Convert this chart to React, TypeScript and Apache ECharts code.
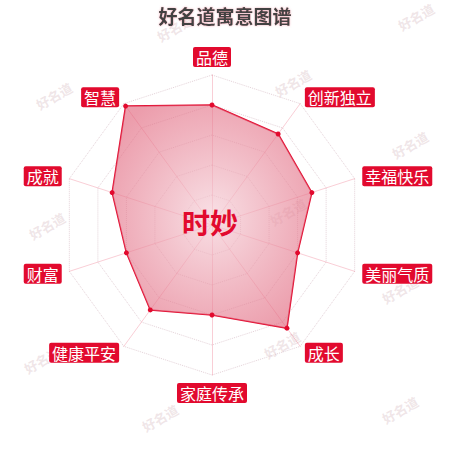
import * as echarts from 'echarts';
import React, { useEffect, useRef } from 'react';

// counterclockwise from the top, as the radar draws them
const indicatorNames = [
  '品德',
  '智慧',
  '成就',
  '财富',
  '健康平安',
  '家庭传承',
  '成长',
  '美丽气质',
  '幸福快乐',
  '创新独立',
];
const scores = [80, 98, 70, 60, 70, 60, 85, 60, 70, 75];
const maxScore = 100;

const title = '好名道寓意图谱';
const nameText = '时妙';
const watermark = '好名道';
const watermarkSpots = [
  [175, 28],
  [416, 17],
  [54, 96],
  [293, 83],
  [410, 145],
  [47, 226],
  [288, 212],
  [400, 290],
  [42, 360],
  [282, 345],
  [160, 418],
  [400, 410],
];

const red = '#e20a2e';

const App: React.FC = () => {
  const chartRef = useRef<HTMLDivElement>(null);

  useEffect(() => {
    if (!chartRef.current) return;
    const chart = echarts.init(chartRef.current, undefined, { renderer: 'svg' });

    const option: echarts.EChartsOption = {
      animation: false,
      backgroundColor: '#fff',
      title: {
        text: title,
        left: 'center',
        top: 1,
        textStyle: {
          fontFamily: 'Noto Sans CJK SC',
          fontSize: 19,
          fontWeight: 'bold',
          color: '#424242',
          textShadowColor: 'rgba(230,120,140,0.6)',
          textShadowBlur: 2,
        },
      },
      graphic: [
        ...watermarkSpots.map(([x, y]) => ({
          type: 'text' as const,
          x,
          y,
          rotation: Math.PI / 6,
          z: 0,
          style: {
            text: watermark,
            fontFamily: 'Noto Sans CJK SC',
            fontSize: 13,
            fontWeight: 'bold' as const,
            fill: 'rgba(215,190,195,0.4)',
            align: 'center' as const,
            verticalAlign: 'middle' as const,
          },
        })),
        {
          type: 'text',
          x: 210,
          y: 222,
          z: 100,
          style: {
            text: nameText,
            fontFamily: 'Noto Sans CJK SC',
            fontSize: 28,
            fontWeight: 'bold',
            fill: red,
            align: 'center',
            verticalAlign: 'middle',
          },
        },
      ],
      radar: {
        center: [212, 225],
        radius: 150,
        shape: 'polygon',
        splitNumber: 5,
        startAngle: 90,
        nameGap: 8,
        indicator: indicatorNames.map((name) => ({ name, max: maxScore })),
        axisName: {
          color: '#fff',
          backgroundColor: red,
          borderRadius: 2,
          padding: [2, 3],
          fontSize: 16,
          fontFamily: 'Noto Sans CJK SC',
        },
        axisLine: {
          lineStyle: { color: 'rgba(230,60,90,0.25)', width: 1 },
        },
        splitLine: {
          lineStyle: { color: 'rgba(210,180,190,0.6)', type: 'dotted', width: 1 },
        },
        splitArea: { show: false },
      },
      series: [
        {
          type: 'radar',
          symbol: 'circle',
          symbolSize: 5,
          itemStyle: { color: red },
          lineStyle: { color: red, width: 1.5 },
          areaStyle: {
            color: new echarts.graphic.RadialGradient(0.5, 0.5, 0.6, [
              { offset: 0, color: 'rgba(245,208,216,0.95)' },
              { offset: 1, color: 'rgba(224,96,120,0.88)' },
            ]),
          },
          data: [{ value: scores, name: nameText }],
        },
      ],
    };

    chart.setOption(option);
    return () => {
      chart.dispose();
    };
  }, []);

  return (
    <div
      ref={chartRef}
      style={{ position: 'fixed', left: 0, top: 0, width: 450, height: 450 }}
    />
  );
};

export default App;
